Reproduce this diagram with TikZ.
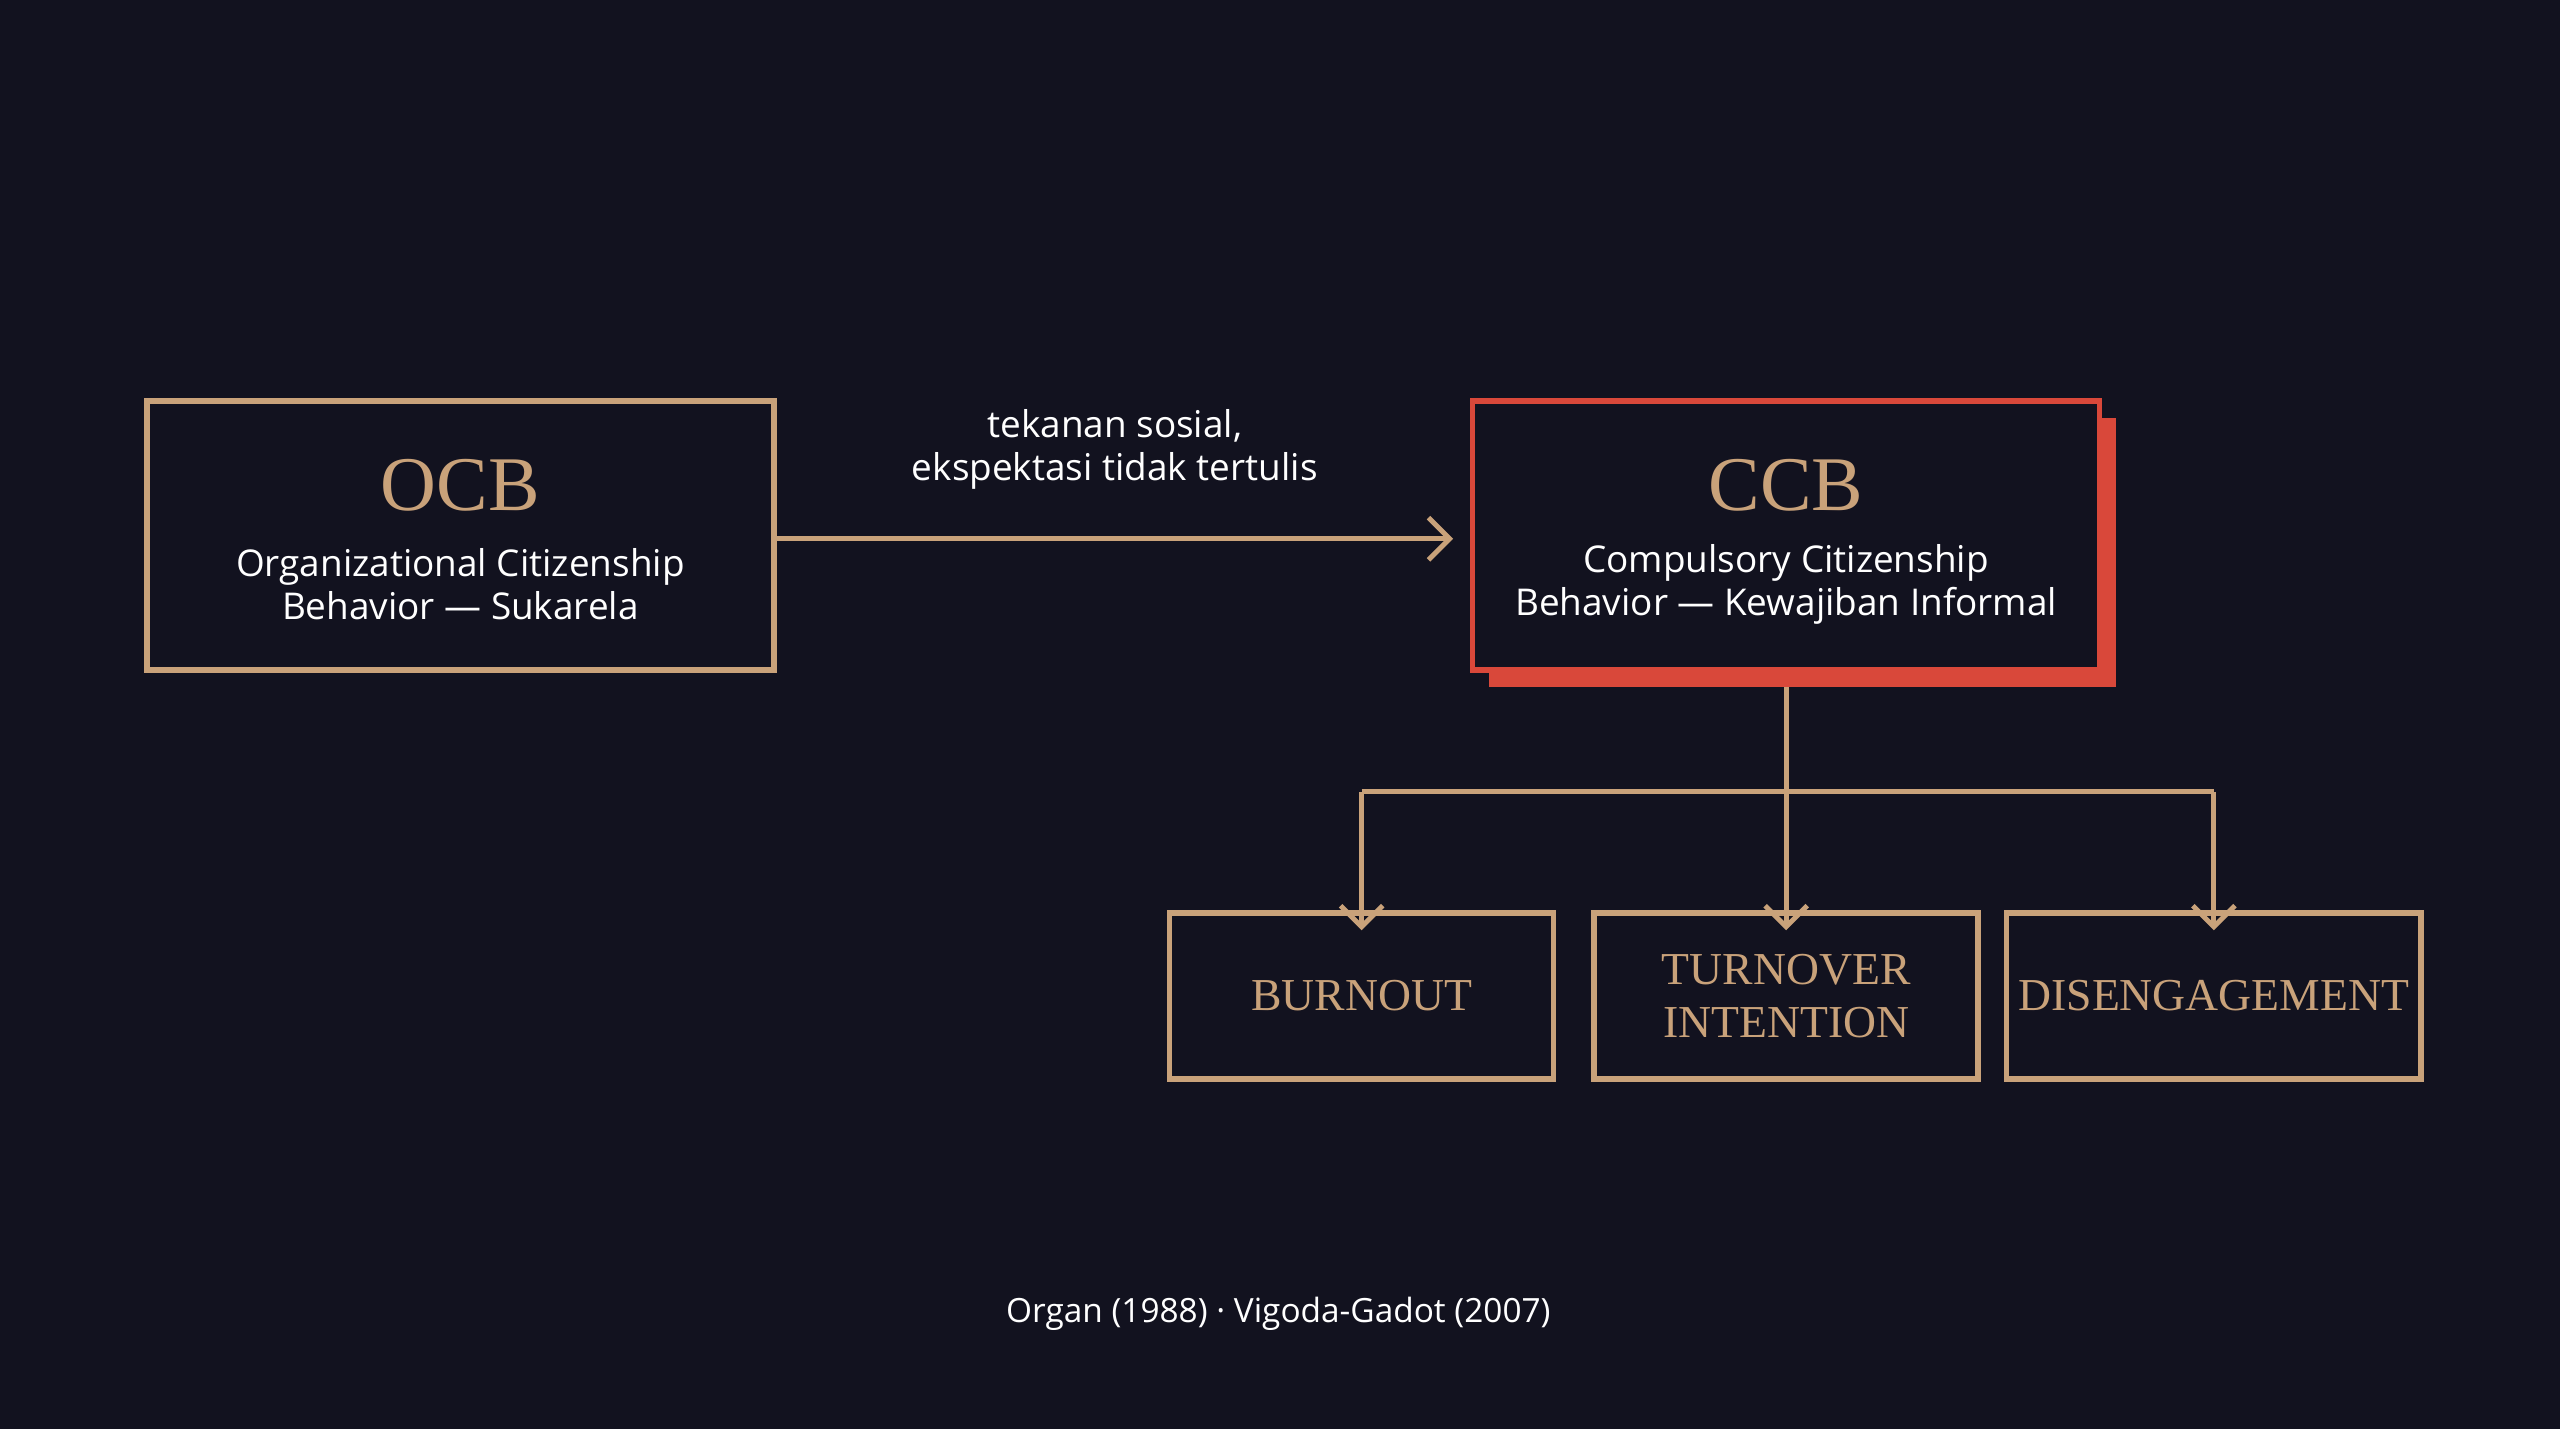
\documentclass[tikz,border=0pt]{standalone}
\usepackage{fontspec}
\setmainfont{Liberation Serif}
\newfontfamily\labelfont{Open Sans}
\usetikzlibrary{positioning,arrows.meta}
\definecolor{bgdark}{HTML}{12121F}
\definecolor{gold}{HTML}{C9A27A}
\definecolor{redccb}{HTML}{D9483A}
\tikzset{
  conceptbox/.style={draw=gold, line width=1.5pt, minimum width=6.27cm, minimum height=2.69cm},
  effectbox/.style={draw=gold, line width=1.5pt, minimum width=3.84cm, minimum height=1.66cm,
    font=\fontsize{13}{15}\selectfont, text=gold, align=center},
  flow/.style={draw=gold, line width=1.4pt, -{Straight Barb[length=6pt,width=12pt]}},
  title/.style={font=\fontsize{22}{24}\selectfont, text=gold},
  subtitle/.style={font=\labelfont\fontsize{10.5}{12.2}\selectfont, text=white, align=center}
}
\begin{document}
\begin{tikzpicture}[x=0.016327cm, y=-0.016327cm]
\fill[bgdark] (0,0) rectangle (1568,875);
% concept boxes
\fill[redccb] (912,256) rectangle (1296,421);
\fill[bgdark] (902,246) rectangle (1286,411);
\node[conceptbox] (ocb) at (282,328) {};
\node[conceptbox, draw=redccb] (ccb) at (1094,328) {};
\node[title] (ocbtitle) at (282,297) {OCB};
\node[subtitle] (ocbsub) at (282,358) {Organizational Citizenship\\Behavior — Sukarela};
\node[title] (ccbtitle) at (1094,297) {CCB};
\node[subtitle] (ccbsub) at (1094,358) {Compulsory Citizenship\\Behavior — Kewajiban Informal};
% pressure arrow
\coordinate (arrowend) at (890,330);
\draw[flow] (ocb.east |- arrowend) -- (arrowend)
  node[midway, above=0.35cm, subtitle] (pressure) {tekanan sosial,\\ekspektasi tidak tertulis};
% effects
\node[effectbox] (burnout) at (834,610) {BURNOUT};
\node[effectbox] (turnover) at (1094,610) {TURNOVER\\INTENTION};
\node[effectbox, minimum width=3.98cm] (disengage) at (1356,610) {DISENGAGEMENT};
\coordinate (split) at (1094,485);
\draw[gold, line width=1.4pt] (1094,421) -- (split);
\draw[gold, line width=1.4pt] (834,485) -- (1356,485);
\draw[flow] (834,485) -- ([yshift=-0.2cm]burnout.north);
\draw[flow] (split) -- ([yshift=-0.2cm]turnover.north);
\draw[flow] (1356,485) -- ([yshift=-0.2cm]disengage.north);
\node[subtitle, font=\labelfont\fontsize{9.5}{11}\selectfont] (source) at (783,805) {Organ (1988) · Vigoda-Gadot (2007)};
\end{tikzpicture}
\end{document}
